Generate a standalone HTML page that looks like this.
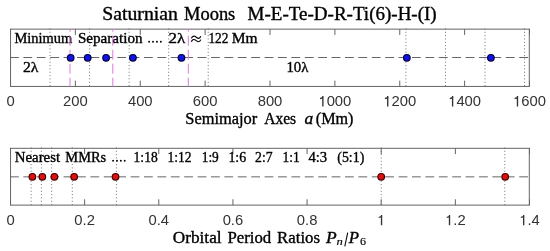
<!DOCTYPE html>
<html><head><meta charset="utf-8"><style>
html,body{margin:0;padding:0;background:#fff;}
body{width:550px;height:251px;overflow:hidden;}
svg{display:block;will-change:transform;}
</style></head><body>
<svg width="550" height="251" viewBox="0 0 550 251">
<rect width="550" height="251" fill="#fff"/>
<line x1="50.04" y1="28.45" x2="50.04" y2="86.5" stroke="#707070" stroke-width="1" stroke-dasharray="1 2.33"/>
<line x1="89.58" y1="28.45" x2="89.58" y2="86.5" stroke="#707070" stroke-width="1" stroke-dasharray="1 2.33"/>
<line x1="129.12" y1="28.45" x2="129.12" y2="86.5" stroke="#707070" stroke-width="1" stroke-dasharray="1 2.33"/>
<line x1="168.67" y1="28.45" x2="168.67" y2="86.5" stroke="#707070" stroke-width="1" stroke-dasharray="1 2.33"/>
<line x1="208.21" y1="28.45" x2="208.21" y2="86.5" stroke="#707070" stroke-width="1" stroke-dasharray="1 2.33"/>
<line x1="405.91" y1="28.45" x2="405.91" y2="86.5" stroke="#707070" stroke-width="1" stroke-dasharray="1 2.33"/>
<line x1="445.45" y1="28.45" x2="445.45" y2="86.5" stroke="#707070" stroke-width="1" stroke-dasharray="1 2.33"/>
<line x1="485.00" y1="28.45" x2="485.00" y2="86.5" stroke="#707070" stroke-width="1" stroke-dasharray="1 2.33"/>
<line x1="524.54" y1="28.45" x2="524.54" y2="86.5" stroke="#707070" stroke-width="1" stroke-dasharray="1 2.33"/>
<line x1="10" y1="57.5" x2="529.5" y2="57.5" stroke="#666" stroke-width="1" stroke-dasharray="8.8 4.6"/>
<line x1="10.50" y1="29.15" x2="10.50" y2="34.949999999999996" stroke="#646464"/>
<line x1="10.50" y1="86.45" x2="10.50" y2="80.65" stroke="#646464"/>
<line x1="75.38" y1="29.15" x2="75.38" y2="34.949999999999996" stroke="#646464"/>
<line x1="75.38" y1="86.45" x2="75.38" y2="80.65" stroke="#646464"/>
<line x1="140.25" y1="29.15" x2="140.25" y2="34.949999999999996" stroke="#646464"/>
<line x1="140.25" y1="86.45" x2="140.25" y2="80.65" stroke="#646464"/>
<line x1="205.12" y1="29.15" x2="205.12" y2="34.949999999999996" stroke="#646464"/>
<line x1="205.12" y1="86.45" x2="205.12" y2="80.65" stroke="#646464"/>
<line x1="270.00" y1="29.15" x2="270.00" y2="34.949999999999996" stroke="#646464"/>
<line x1="270.00" y1="86.45" x2="270.00" y2="80.65" stroke="#646464"/>
<line x1="334.88" y1="29.15" x2="334.88" y2="34.949999999999996" stroke="#646464"/>
<line x1="334.88" y1="86.45" x2="334.88" y2="80.65" stroke="#646464"/>
<line x1="399.75" y1="29.15" x2="399.75" y2="34.949999999999996" stroke="#646464"/>
<line x1="399.75" y1="86.45" x2="399.75" y2="80.65" stroke="#646464"/>
<line x1="464.62" y1="29.15" x2="464.62" y2="34.949999999999996" stroke="#646464"/>
<line x1="464.62" y1="86.45" x2="464.62" y2="80.65" stroke="#646464"/>
<line x1="529.50" y1="29.15" x2="529.50" y2="34.949999999999996" stroke="#646464"/>
<line x1="529.50" y1="86.45" x2="529.50" y2="80.65" stroke="#646464"/>
<path d="M10.55,29.15 H529.3 M10.55,86.45 H529.3 M10.55,28.65 V86.95 M529.3,28.65 V86.95" fill="none" stroke="#646464"/>
<line x1="31.10" y1="147.45" x2="31.10" y2="205.5" stroke="#707070" stroke-width="1" stroke-dasharray="1 2.33"/>
<line x1="41.39" y1="147.45" x2="41.39" y2="205.5" stroke="#707070" stroke-width="1" stroke-dasharray="1 2.33"/>
<line x1="51.69" y1="147.45" x2="51.69" y2="205.5" stroke="#707070" stroke-width="1" stroke-dasharray="1 2.33"/>
<line x1="72.29" y1="147.45" x2="72.29" y2="205.5" stroke="#707070" stroke-width="1" stroke-dasharray="1 2.33"/>
<line x1="116.42" y1="147.45" x2="116.42" y2="205.5" stroke="#707070" stroke-width="1" stroke-dasharray="1 2.33"/>
<line x1="381.21" y1="147.45" x2="381.21" y2="205.5" stroke="#707070" stroke-width="1" stroke-dasharray="1 2.33"/>
<line x1="504.79" y1="147.45" x2="504.79" y2="205.5" stroke="#707070" stroke-width="1" stroke-dasharray="1 2.33"/>
<line x1="10" y1="176.85" x2="529.5" y2="176.85" stroke="#666" stroke-width="1" stroke-dasharray="8.8 4.6"/>
<line x1="10.50" y1="148.3" x2="10.50" y2="154.10000000000002" stroke="#646464"/>
<line x1="10.50" y1="205.1" x2="10.50" y2="199.29999999999998" stroke="#646464"/>
<line x1="84.64" y1="148.3" x2="84.64" y2="154.10000000000002" stroke="#646464"/>
<line x1="84.64" y1="205.1" x2="84.64" y2="199.29999999999998" stroke="#646464"/>
<line x1="158.79" y1="148.3" x2="158.79" y2="154.10000000000002" stroke="#646464"/>
<line x1="158.79" y1="205.1" x2="158.79" y2="199.29999999999998" stroke="#646464"/>
<line x1="232.93" y1="148.3" x2="232.93" y2="154.10000000000002" stroke="#646464"/>
<line x1="232.93" y1="205.1" x2="232.93" y2="199.29999999999998" stroke="#646464"/>
<line x1="307.07" y1="148.3" x2="307.07" y2="154.10000000000002" stroke="#646464"/>
<line x1="307.07" y1="205.1" x2="307.07" y2="199.29999999999998" stroke="#646464"/>
<line x1="381.21" y1="148.3" x2="381.21" y2="154.10000000000002" stroke="#646464"/>
<line x1="381.21" y1="205.1" x2="381.21" y2="199.29999999999998" stroke="#646464"/>
<line x1="455.36" y1="148.3" x2="455.36" y2="154.10000000000002" stroke="#646464"/>
<line x1="455.36" y1="205.1" x2="455.36" y2="199.29999999999998" stroke="#646464"/>
<line x1="529.50" y1="148.3" x2="529.50" y2="154.10000000000002" stroke="#646464"/>
<line x1="529.50" y1="205.1" x2="529.50" y2="199.29999999999998" stroke="#646464"/>
<path d="M10.55,148.3 H529.3 M10.55,205.1 H529.3 M10.55,147.8 V205.6 M529.3,147.8 V205.6" fill="none" stroke="#646464"/>
<circle cx="32.40" cy="176.8" r="3.3" fill="#e01010" stroke="#440000" stroke-width="1.2"/>
<circle cx="42.35" cy="176.8" r="3.3" fill="#e01010" stroke="#440000" stroke-width="1.2"/>
<circle cx="54.40" cy="176.8" r="3.3" fill="#e01010" stroke="#440000" stroke-width="1.2"/>
<circle cx="74.13" cy="176.8" r="3.3" fill="#e01010" stroke="#440000" stroke-width="1.2"/>
<circle cx="115.54" cy="176.8" r="3.3" fill="#e01010" stroke="#440000" stroke-width="1.2"/>
<circle cx="381.21" cy="176.8" r="3.3" fill="#e01010" stroke="#440000" stroke-width="1.2"/>
<circle cx="505.18" cy="176.8" r="3.3" fill="#e01010" stroke="#440000" stroke-width="1.2"/>
<text x="102.30" y="19.8" font-family="Liberation Serif" font-size="17.9" fill="#000" stroke="#000" stroke-width="0.35" textLength="75.59" lengthAdjust="spacingAndGlyphs">Saturnian</text>
<text x="184.00" y="19.8" font-family="Liberation Serif" font-size="17.9" fill="#000" stroke="#000" stroke-width="0.35" textLength="51.31" lengthAdjust="spacingAndGlyphs">Moons</text>
<text x="247.60" y="19.8" font-family="Liberation Serif" font-size="17.9" fill="#000" stroke="#000" stroke-width="0.35" textLength="189.10" lengthAdjust="spacingAndGlyphs">M-E-Te-D-R-Ti(6)-H-(I)</text>
<text x="14.40" y="42.9" font-family="Liberation Serif" font-size="13.8" fill="#000" stroke="#000" stroke-width="0.35" textLength="57.81" lengthAdjust="spacingAndGlyphs">Minimum</text>
<text x="77.90" y="42.9" font-family="Liberation Serif" font-size="13.8" fill="#000" stroke="#000" stroke-width="0.35" textLength="64.71" lengthAdjust="spacingAndGlyphs">Separation</text>
<circle cx="149.1" cy="41.75" r="0.95" fill="#000"/>
<circle cx="153.0" cy="41.75" r="0.95" fill="#000"/>
<circle cx="156.9" cy="41.75" r="0.95" fill="#000"/>
<circle cx="160.85" cy="41.75" r="0.95" fill="#000"/>
<text x="168.60" y="42.9" font-family="Liberation Serif" font-size="14.3" fill="#000" stroke="#000" stroke-width="0.35" textLength="16.70" lengthAdjust="spacingAndGlyphs">2λ</text>
<path d="M191.4,38.4 C192.0,36.6 193.4,35.6 194.8,36.3 C196.2,37.0 197.2,38.3 198.6,38.3 C199.6,38.3 200.4,37.3 200.8,36.2" fill="none" stroke="#000" stroke-width="1.15"/>
<path d="M191.4,41.8 C192.0,40.0 193.4,39.0 194.8,39.7 C196.2,40.4 197.2,41.7 198.6,41.7 C199.6,41.7 200.4,40.7 200.8,39.6" fill="none" stroke="#000" stroke-width="1.15"/>
<text x="208.40" y="42.9" font-family="Liberation Serif" font-size="14.0" fill="#000" stroke="#000" stroke-width="0.35" textLength="20.00" lengthAdjust="spacingAndGlyphs">122</text>
<text x="231.70" y="42.9" font-family="Liberation Serif" font-size="13.8" fill="#000" stroke="#000" stroke-width="0.35" textLength="25.80" lengthAdjust="spacingAndGlyphs">Mm</text>
<text x="23.00" y="72.0" font-family="Liberation Serif" font-size="14.3" fill="#000" stroke="#000" stroke-width="0.35" textLength="15.50" lengthAdjust="spacingAndGlyphs">2λ</text>
<text x="286.40" y="72.0" font-family="Liberation Serif" font-size="14.3" fill="#000" stroke="#000" stroke-width="0.35" textLength="22.00" lengthAdjust="spacingAndGlyphs">10λ</text>
<text x="6.39" y="106.4" font-family="Liberation Sans" font-size="14.8" fill="#333">0</text>
<text x="63.03" y="106.4" font-family="Liberation Sans" font-size="14.8" fill="#333">2</text>
<text x="71.26" y="106.4" font-family="Liberation Sans" font-size="14.8" fill="#333">0</text>
<text x="79.49" y="106.4" font-family="Liberation Sans" font-size="14.8" fill="#333">0</text>
<text x="127.91" y="106.4" font-family="Liberation Sans" font-size="14.8" fill="#333">4</text>
<text x="136.14" y="106.4" font-family="Liberation Sans" font-size="14.8" fill="#333">0</text>
<text x="144.36" y="106.4" font-family="Liberation Sans" font-size="14.8" fill="#333">0</text>
<text x="192.78" y="106.4" font-family="Liberation Sans" font-size="14.8" fill="#333">6</text>
<text x="201.01" y="106.4" font-family="Liberation Sans" font-size="14.8" fill="#333">0</text>
<text x="209.24" y="106.4" font-family="Liberation Sans" font-size="14.8" fill="#333">0</text>
<text x="257.66" y="106.4" font-family="Liberation Sans" font-size="14.8" fill="#333">8</text>
<text x="265.89" y="106.4" font-family="Liberation Sans" font-size="14.8" fill="#333">0</text>
<text x="274.11" y="106.4" font-family="Liberation Sans" font-size="14.8" fill="#333">0</text>
<path d="M322.86,106.40 V95.97 M323.30,96.71 Q321.67,98.48 320.05,98.48" fill="none" stroke="#333" stroke-width="1.36"/>
<text x="326.65" y="106.4" font-family="Liberation Sans" font-size="14.8" fill="#333">0</text>
<text x="334.87" y="106.4" font-family="Liberation Sans" font-size="14.8" fill="#333">0</text>
<text x="343.10" y="106.4" font-family="Liberation Sans" font-size="14.8" fill="#333">0</text>
<path d="M387.73,106.40 V95.97 M388.18,96.71 Q386.55,98.48 384.92,98.48" fill="none" stroke="#333" stroke-width="1.36"/>
<text x="391.52" y="106.4" font-family="Liberation Sans" font-size="14.8" fill="#333">2</text>
<text x="399.75" y="106.4" font-family="Liberation Sans" font-size="14.8" fill="#333">0</text>
<text x="407.98" y="106.4" font-family="Liberation Sans" font-size="14.8" fill="#333">0</text>
<path d="M452.61,106.40 V95.97 M453.05,96.71 Q451.42,98.48 449.80,98.48" fill="none" stroke="#333" stroke-width="1.36"/>
<text x="456.40" y="106.4" font-family="Liberation Sans" font-size="14.8" fill="#333">4</text>
<text x="464.62" y="106.4" font-family="Liberation Sans" font-size="14.8" fill="#333">0</text>
<text x="472.85" y="106.4" font-family="Liberation Sans" font-size="14.8" fill="#333">0</text>
<path d="M517.48,106.40 V95.97 M517.93,96.71 Q516.30,98.48 514.67,98.48" fill="none" stroke="#333" stroke-width="1.36"/>
<text x="521.27" y="106.4" font-family="Liberation Sans" font-size="14.8" fill="#333">6</text>
<text x="529.50" y="106.4" font-family="Liberation Sans" font-size="14.8" fill="#333">0</text>
<text x="537.73" y="106.4" font-family="Liberation Sans" font-size="14.8" fill="#333">0</text>
<text x="185.30" y="124.0" font-family="Liberation Serif" font-size="16" fill="#000" stroke="#000" stroke-width="0.35" textLength="72.00" lengthAdjust="spacingAndGlyphs">Semimajor</text>
<text x="264.20" y="124.0" font-family="Liberation Serif" font-size="16" fill="#000" stroke="#000" stroke-width="0.35" textLength="31.90" lengthAdjust="spacingAndGlyphs">Axes</text>
<text x="304.60" y="124.0" font-family="Liberation Serif" font-size="16" font-style="italic" fill="#000" stroke="#000" stroke-width="0.35" textLength="8.70" lengthAdjust="spacingAndGlyphs">a</text>
<text x="315.80" y="124.0" font-family="Liberation Serif" font-size="16" fill="#000" stroke="#000" stroke-width="0.35" textLength="37.70" lengthAdjust="spacingAndGlyphs">(Mm)</text>
<text x="14.80" y="161.9" font-family="Liberation Serif" font-size="13.8" fill="#000" stroke="#000" stroke-width="0.35" textLength="45.30" lengthAdjust="spacingAndGlyphs">Nearest</text>
<text x="65.30" y="161.9" font-family="Liberation Serif" font-size="13.8" fill="#000" stroke="#000" stroke-width="0.35" textLength="40.91" lengthAdjust="spacingAndGlyphs">MMRs</text>
<circle cx="113.1" cy="160.8" r="0.95" fill="#000"/>
<circle cx="117.0" cy="160.8" r="0.95" fill="#000"/>
<circle cx="120.85" cy="160.8" r="0.95" fill="#000"/>
<circle cx="124.7" cy="160.8" r="0.95" fill="#000"/>
<text x="133.60" y="161.9" font-family="Liberation Serif" font-size="14.5" fill="#000" stroke="#000" stroke-width="0.35" textLength="24.10" lengthAdjust="spacingAndGlyphs">1:18</text>
<text x="167.50" y="161.9" font-family="Liberation Serif" font-size="14.5" fill="#000" stroke="#000" stroke-width="0.35" textLength="24.10" lengthAdjust="spacingAndGlyphs">1:12</text>
<text x="201.70" y="161.9" font-family="Liberation Serif" font-size="14.5" fill="#000" stroke="#000" stroke-width="0.35" textLength="17.10" lengthAdjust="spacingAndGlyphs">1:9</text>
<text x="228.40" y="161.9" font-family="Liberation Serif" font-size="14.5" fill="#000" stroke="#000" stroke-width="0.35" textLength="17.70" lengthAdjust="spacingAndGlyphs">1:6</text>
<text x="255.10" y="161.9" font-family="Liberation Serif" font-size="14.5" fill="#000" stroke="#000" stroke-width="0.35" textLength="17.50" lengthAdjust="spacingAndGlyphs">2:7</text>
<text x="282.50" y="161.9" font-family="Liberation Serif" font-size="14.5" fill="#000" stroke="#000" stroke-width="0.35" textLength="17.20" lengthAdjust="spacingAndGlyphs">1:1</text>
<text x="308.40" y="161.9" font-family="Liberation Serif" font-size="14.5" fill="#000" stroke="#000" stroke-width="0.35" textLength="18.80" lengthAdjust="spacingAndGlyphs">4:3</text>
<text x="337.30" y="161.9" font-family="Liberation Serif" font-size="14.5" fill="#000" stroke="#000" stroke-width="0.35" textLength="27.00" lengthAdjust="spacingAndGlyphs">(5:1)</text>
<text x="6.39" y="225.35" font-family="Liberation Sans" font-size="14.8" fill="#333">0</text>
<text x="74.36" y="225.35" font-family="Liberation Sans" font-size="14.8" fill="#333">0</text>
<text x="82.59" y="225.35" font-family="Liberation Sans" font-size="14.8" fill="#333">.</text>
<text x="86.70" y="225.35" font-family="Liberation Sans" font-size="14.8" fill="#333">2</text>
<text x="148.50" y="225.35" font-family="Liberation Sans" font-size="14.8" fill="#333">0</text>
<text x="156.73" y="225.35" font-family="Liberation Sans" font-size="14.8" fill="#333">.</text>
<text x="160.84" y="225.35" font-family="Liberation Sans" font-size="14.8" fill="#333">4</text>
<text x="222.64" y="225.35" font-family="Liberation Sans" font-size="14.8" fill="#333">0</text>
<text x="230.87" y="225.35" font-family="Liberation Sans" font-size="14.8" fill="#333">.</text>
<text x="234.99" y="225.35" font-family="Liberation Sans" font-size="14.8" fill="#333">6</text>
<text x="296.79" y="225.35" font-family="Liberation Sans" font-size="14.8" fill="#333">0</text>
<text x="305.01" y="225.35" font-family="Liberation Sans" font-size="14.8" fill="#333">.</text>
<text x="309.13" y="225.35" font-family="Liberation Sans" font-size="14.8" fill="#333">8</text>
<path d="M381.54,225.35 V214.92 M381.98,215.66 Q380.36,217.43 378.73,217.43" fill="none" stroke="#333" stroke-width="1.36"/>
<path d="M449.51,225.35 V214.92 M449.96,215.66 Q448.33,217.43 446.70,217.43" fill="none" stroke="#333" stroke-width="1.36"/>
<text x="453.30" y="225.35" font-family="Liberation Sans" font-size="14.8" fill="#333">.</text>
<text x="457.41" y="225.35" font-family="Liberation Sans" font-size="14.8" fill="#333">2</text>
<path d="M523.65,225.35 V214.92 M524.10,215.66 Q522.47,217.43 520.84,217.43" fill="none" stroke="#333" stroke-width="1.36"/>
<text x="527.44" y="225.35" font-family="Liberation Sans" font-size="14.8" fill="#333">.</text>
<text x="531.56" y="225.35" font-family="Liberation Sans" font-size="14.8" fill="#333">4</text>
<text x="172.80" y="243.3" font-family="Liberation Serif" font-size="16" fill="#000" stroke="#000" stroke-width="0.35" textLength="48.79" lengthAdjust="spacingAndGlyphs">Orbital</text>
<text x="227.50" y="243.3" font-family="Liberation Serif" font-size="16" fill="#000" stroke="#000" stroke-width="0.35" textLength="43.70" lengthAdjust="spacingAndGlyphs">Period</text>
<text x="277.10" y="243.3" font-family="Liberation Serif" font-size="16" fill="#000" stroke="#000" stroke-width="0.35" textLength="42.89" lengthAdjust="spacingAndGlyphs">Ratios</text>
<text x="326.11" y="243.3" font-family="Liberation Serif" font-size="16" font-style="italic" fill="#000" stroke="#000" stroke-width="0.35" textLength="10.69" lengthAdjust="spacingAndGlyphs">P</text>
<text x="336.50" y="244.9" font-family="Liberation Serif" font-size="9.5" font-style="italic" fill="#000" stroke="#000" stroke-width="0.15" textLength="6.30" lengthAdjust="spacingAndGlyphs">n</text>
<path d="M347.7,232.6 L344.8,246.3" stroke="#000" stroke-width="1.05" fill="none"/>
<text x="348.70" y="243.3" font-family="Liberation Serif" font-size="16" font-style="italic" fill="#000" stroke="#000" stroke-width="0.35" textLength="10.30" lengthAdjust="spacingAndGlyphs">P</text>
<text x="360.00" y="244.9" font-family="Liberation Serif" font-size="9.5" fill="#000" stroke="#000" stroke-width="0.15" textLength="6.00" lengthAdjust="spacingAndGlyphs">6</text>
<line x1="70.00" y1="29.5" x2="70.00" y2="86.5" stroke="#de78de" stroke-width="1" stroke-dasharray="10 4" stroke-dashoffset="7.8"/>
<line x1="112.80" y1="29.5" x2="112.80" y2="86.5" stroke="#de78de" stroke-width="1" stroke-dasharray="10 4" stroke-dashoffset="7.8"/>
<line x1="188.30" y1="29.5" x2="188.30" y2="86.5" stroke="#de78de" stroke-width="1" stroke-dasharray="10 4" stroke-dashoffset="7.8"/>
<circle cx="70.67" cy="57.8" r="3.3" fill="#1212e6" stroke="#000040" stroke-width="1.2"/>
<circle cx="87.70" cy="57.8" r="3.3" fill="#1212e6" stroke="#000040" stroke-width="1.2"/>
<circle cx="106.09" cy="57.8" r="3.3" fill="#1212e6" stroke="#000040" stroke-width="1.2"/>
<circle cx="132.92" cy="57.8" r="3.3" fill="#1212e6" stroke="#000040" stroke-width="1.2"/>
<circle cx="181.48" cy="57.8" r="3.3" fill="#1212e6" stroke="#000040" stroke-width="1.2"/>
<circle cx="406.85" cy="57.8" r="3.3" fill="#1212e6" stroke="#000040" stroke-width="1.2"/>
<circle cx="490.90" cy="57.8" r="3.3" fill="#1212e6" stroke="#000040" stroke-width="1.2"/>
</svg>
</body></html>
